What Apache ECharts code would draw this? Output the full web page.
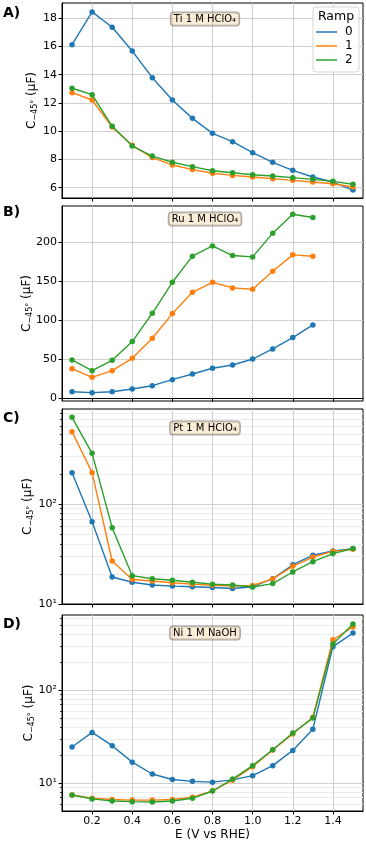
<!DOCTYPE html>
<html>
<head>
<meta charset="utf-8">
<script src="https://cdn.jsdelivr.net/npm/echarts@6/dist/echarts.min.js"></script>
<style>
html, body { margin: 0; padding: 0; background: #fff; }
#chart { width: 366px; height: 843px; }
</style>
</head>
<body>
<div id="chart"></div>
<script>
// potential, V vs RHE
const potential = [0.1, 0.2, 0.3, 0.4, 0.5, 0.6, 0.7, 0.8, 0.9, 1.0, 1.1, 1.2, 1.3, 1.4, 1.5];
const ramps = ["0", "1", "2"];
const colors = ["#1f77b4", "#ff7f0e", "#2ca02c"];
const xTicks = [0.2, 0.4, 0.6, 0.8, 1.0, 1.2, 1.4];

// A) Ti 1 M HClO4
const tiRamp0 = [16.13, 18.45, 17.36, 15.68, 13.79, 12.21, 10.91, 9.85, 9.26, 8.48, 7.80, 7.23, 6.76, 6.40, 5.83];
const tiRamp1 = [12.73, 12.21, 10.30, 9.00, 8.13, 7.61, 7.28, 7.02, 6.87, 6.76, 6.64, 6.52, 6.40, 6.28, 6.05];
const tiRamp2 = [13.04, 12.59, 10.35, 8.95, 8.24, 7.80, 7.49, 7.20, 7.06, 6.92, 6.83, 6.71, 6.59, 6.45, 6.24];
const tiTicks = [6, 8, 10, 12, 14, 16, 18];

// B) Ru 1 M HClO4 (stops at 1.3 V)
const ruRamp0 = [8.5, 7.3, 8.5, 12.0, 16.2, 23.9, 31.2, 38.5, 42.7, 50.4, 63.3, 77.8, 94.0];
const ruRamp1 = [38.0, 26.9, 35.5, 51.3, 76.9, 108.6, 135.9, 148.7, 141.5, 139.8, 162.8, 183.8, 182.1];
const ruRamp2 = [49.2, 35.5, 48.7, 72.7, 109.0, 148.7, 182.1, 195.3, 182.9, 181.2, 211.6, 235.9, 231.6];
const ruTicks = [0, 50, 100, 150, 200];

// C) Pt 1 M HClO4
const ptRamp0 = [205.8, 66.6, 18.6, 16.5, 15.5, 15.1, 14.9, 14.6, 14.3, 14.9, 17.9, 24.7, 30.7, 33.9, 35.8];
const ptRamp1 = [529, 205.8, 26.9, 17.6, 17.0, 16.3, 15.8, 15.4, 15.1, 15.3, 17.8, 23.8, 29.5, 33.6, 35.2];
const ptRamp2 = [736, 321, 58.0, 19.2, 17.9, 17.3, 16.5, 15.8, 15.5, 14.8, 16.0, 20.9, 26.5, 31.9, 35.8];
const ptTicks = [10, 100];
const ptMinor = [20, 30, 40, 50, 60, 70, 80, 90, 200, 300, 400, 500, 600, 700, 800];

// D) Ni 1 M NaOH
const niRamp0 = [24.6, 35.3, 25.4, 16.9, 12.6, 11.0, 10.5, 10.3, 10.9, 12.1, 15.5, 22.6, 38.1, 295, 413];
const niRamp1 = [7.5, 6.9, 6.7, 6.6, 6.6, 6.7, 7.1, 8.3, 10.8, 15.1, 22.8, 33.9, 51.3, 350, 480];
const niRamp2 = [7.5, 6.8, 6.45, 6.35, 6.3, 6.45, 6.9, 8.27, 11.1, 15.5, 23.0, 34.8, 50.3, 315, 516];
const niTicks = [10, 100];
const niMinor = [6, 7, 8, 9, 20, 30, 40, 50, 60, 70, 80, 90, 200, 300, 400, 500, 600];

const panels = [
  {label: "A)", note: "Ti 1 M HClO₄", series: [tiRamp0, tiRamp1, tiRamp2], ticks: tiTicks,
   log: false, min: 5.27, max: 19.08, top: 3, height: 195, labelY: 14, noteY: 19, nameGap: 23},
  {label: "B)", note: "Ru 1 M HClO₄", series: [ruRamp0, ruRamp1, ruRamp2], ticks: ruTicks,
   log: false, min: -3.4, max: 246.4, top: 206, height: 195, labelY: 213, noteY: 219, nameGap: 28},
  {label: "C)", note: "Pt 1 M HClO₄", series: [ptRamp0, ptRamp1, ptRamp2], ticks: ptTicks, minor: ptMinor,
   log: true, min: 10, max: 891, top: 409, height: 195, labelY: 419, noteY: 428, nameGap: 27},
  {label: "D)", note: "Ni 1 M NaOH", series: [niRamp0, niRamp1, niRamp2], ticks: niTicks, minor: niMinor,
   log: true, min: 5.04, max: 646, top: 615, height: 196, labelY: 625, noteY: 633, nameGap: 26},
];

const FONT = "DejaVu Sans";
const SUP = {1: "¹", 2: "²", 3: "³"};
const grid = [], xAxis = [], yAxis = [], series = [], graphic = [];

panels.forEach((p, i) => {
  grid.push({left: 62, width: 301, top: p.top, height: p.height, show: true,
    borderColor: "#000", borderWidth: 1, backgroundColor: "transparent"});
  const last = i === panels.length - 1;
  xAxis.push({
    type: "value", gridIndex: i, min: 0.05, max: 1.55,
    axisLine: {show: true, lineStyle: {color: "#000", width: 1}},
    axisTick: {show: true, length: 3.5, customValues: xTicks, lineStyle: {color: "#000"}},
    axisLabel: {show: last, customValues: xTicks, margin: 5, color: "#000", fontFamily: FONT, fontSize: 11,
      formatter: v => v.toFixed(1)},
    splitLine: {show: true, lineStyle: {color: "#cfcfcf", width: 1}},
    name: last ? "E (V vs RHE)" : "", nameLocation: "middle", nameGap: 18, nameMoveOverlap: false,
    nameTextStyle: {color: "#000", fontFamily: FONT, fontSize: 12},
  });
  yAxis.push({
    type: p.log ? "log" : "value", logBase: 10, gridIndex: i, position: "left", min: p.min, max: p.max,
    axisLine: {show: true, lineStyle: {color: "#000", width: 1}},
    axisTick: {show: true, length: 3.5, customValues: p.ticks, lineStyle: {color: "#000"}},
    axisLabel: {customValues: p.ticks, margin: 5, color: "#000", fontFamily: FONT, fontSize: 11,
      formatter: v => p.log ? "10" + SUP[Math.round(Math.log10(v))] : String(v)},
    splitLine: {show: true, lineStyle: {color: "#cfcfcf", width: 1}},
    name: "C{s|−45°} (µF)", nameLocation: "middle", nameGap: p.nameGap, nameMoveOverlap: false,
    nameTextStyle: {color: "#000", fontFamily: FONT, fontSize: 12,
      rich: {s: {fontFamily: FONT, fontSize: 8, color: "#000", padding: [6, 0, 0, 0]}}},
  });
  p.series.forEach((vals, r) => {
    series.push({
      type: "line", name: ramps[r], xAxisIndex: i, yAxisIndex: i,
      data: vals.map((v, k) => [potential[k], v]),
      symbol: "circle", symbolSize: 5.5, showSymbol: true,
      itemStyle: {color: colors[r]}, lineStyle: {color: colors[r], width: 1.4},
      emphasis: {disabled: true}, animation: false, z: 3 + r,
    });
  });
  graphic.push({type: "text", left: 3, top: p.labelY - 8, z: 10,
    style: {text: p.label, fill: "#000", font: "bold 14px " + FONT}});
  graphic.push({type: "text", x: 205, y: p.noteY, z: 10,
    style: {text: p.note, fill: "#000", font: "10px " + FONT, align: "center", verticalAlign: "middle",
      backgroundColor: "rgba(245,222,179,0.5)", borderColor: "rgba(0,0,0,0.35)", borderWidth: 1,
      borderRadius: 3, padding: [2, 3, 1, 3]}});
});

// minor ticks / minor grid for log panels, on a second overlaid axis
panels.forEach((p, i) => {
  if (!p.minor) return;
  yAxis.push({
    type: "log", logBase: 10, gridIndex: i, position: "left", offset: 0, min: p.min, max: p.max,
    axisLine: {show: false},
    axisTick: {show: true, length: 2, customValues: p.minor, lineStyle: {color: "#000", width: 0.8}},
    axisLabel: {show: false},
    splitLine: {show: true, lineStyle: {color: "#ececec", width: 1}},
  });
});

// legend box + title in panel A
graphic.push({type: "rect", shape: {x: 313, y: 7, width: 46, height: 65, r: 3}, z: 20,
  style: {fill: "rgba(255,255,255,0.85)", stroke: "#d5d5d5", lineWidth: 1}});
graphic.push({type: "text", x: 336, y: 17, z: 21,
  style: {text: "Ramp", fill: "#000", font: "12.5px " + FONT, align: "center", verticalAlign: "middle"}});

const chart = echarts.init(document.getElementById("chart"), null, {renderer: "canvas"});
chart.setOption({
  animation: false,
  grid, xAxis, yAxis, series, graphic,
  legend: {
    data: ramps, orient: "vertical", left: 316, top: 26, z: 30,
    icon: "rect", itemWidth: 21, itemHeight: 1.5, itemGap: 2, padding: 0,
    textStyle: {color: "#000", fontFamily: FONT, fontSize: 12, padding: [0, 0, 0, 3]},
    selectedMode: false,
  },
});
</script>
</body>
</html>
